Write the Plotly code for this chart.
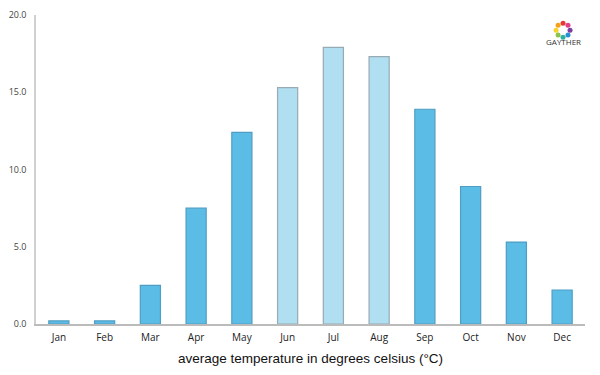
import plotly.graph_objects as go
import math

months = ["Jan", "Feb", "Mar", "Apr", "May", "Jun", "Jul", "Aug", "Sep", "Oct", "Nov", "Dec"]
temps = [0.2, 0.2, 2.5, 7.5, 12.4, 15.3, 17.9, 17.3, 13.9, 8.9, 5.3, 2.2]
summer = ["Jun", "Jul", "Aug"]
y_ticks = [0, 5, 10, 15, 20]

dark = "#5BBDE6"
light = "#B0DFF1"
colors = [light if m in summer else dark for m in months]
outlines = ["#98aab3" if m in summer else "#4f9dc2" for m in months]

fig = go.Figure()
fig.add_trace(go.Bar(
    x=months, y=temps,
    marker=dict(color=colors, line=dict(color=outlines, width=1.2)),
    width=0.44,
    hoverinfo="x+y",
))

font_family = "'Open Sans', 'DejaVu Sans', sans-serif"

# page body has an 8px margin, so offsets compensate for it
fig.update_layout(
    width=600, height=375,
    margin=dict(l=28, r=23, t=7, b=59, autoexpand=False),
    paper_bgcolor="white", plot_bgcolor="white",
    showlegend=False,
    font=dict(family=font_family, color="#333"),
    xaxis=dict(
        automargin=False,
        showgrid=False, showline=True, linecolor="#bbbbbb", linewidth=1.5,
        ticks="", tickfont=dict(size=10, color="#222"), ticklabelstandoff=3,
    ),
    yaxis=dict(
        automargin=False,
        range=[0, 20], tickvals=y_ticks, tickformat=".1f",
        showgrid=False, zeroline=False, showline=True, linecolor="#d0d0d0", linewidth=1.5,
        ticks="", tickfont=dict(size=9, color="#444"), ticklabelstandoff=6,
    ),
)

fig.add_annotation(text="average temperature in degrees celsius (°C)",
                   xref="paper", yref="paper", x=0.5, y=0, yshift=-34,
                   showarrow=False,
                   font=dict(size=13.5, color="#111", family="'Liberation Sans', Arial, sans-serif"),
                   xanchor="center", yanchor="middle")

# logo
logo_colors = ["#e53935", "#f4a21d", "#f6d32d", "#8bc34a", "#2bb3a0", "#2b8fd6", "#7b3fa0", "#e0408a"]
cx, cy = 0.96, 0.951
for i, c in enumerate(logo_colors):
    a = 2 * math.pi * i / len(logo_colors) + math.pi / 2
    dx = 7 * math.cos(a)
    dy = 7 * math.sin(a)
    fig.add_shape(type="circle", xref="paper", yref="paper",
                  xsizemode="pixel", ysizemode="pixel", xanchor=cx, yanchor=cy,
                  x0=dx - 2.5, x1=dx + 2.5, y0=dy - 2.5, y1=dy + 2.5,
                  fillcolor=c, line=dict(width=0))
fig.add_annotation(text="GAYTHER", xref="paper", yref="paper", x=cx, y=0.913,
                   showarrow=False, font=dict(size=8, color="#333"),
                   xanchor="center", yanchor="middle")

fig.write_html("out.html")
